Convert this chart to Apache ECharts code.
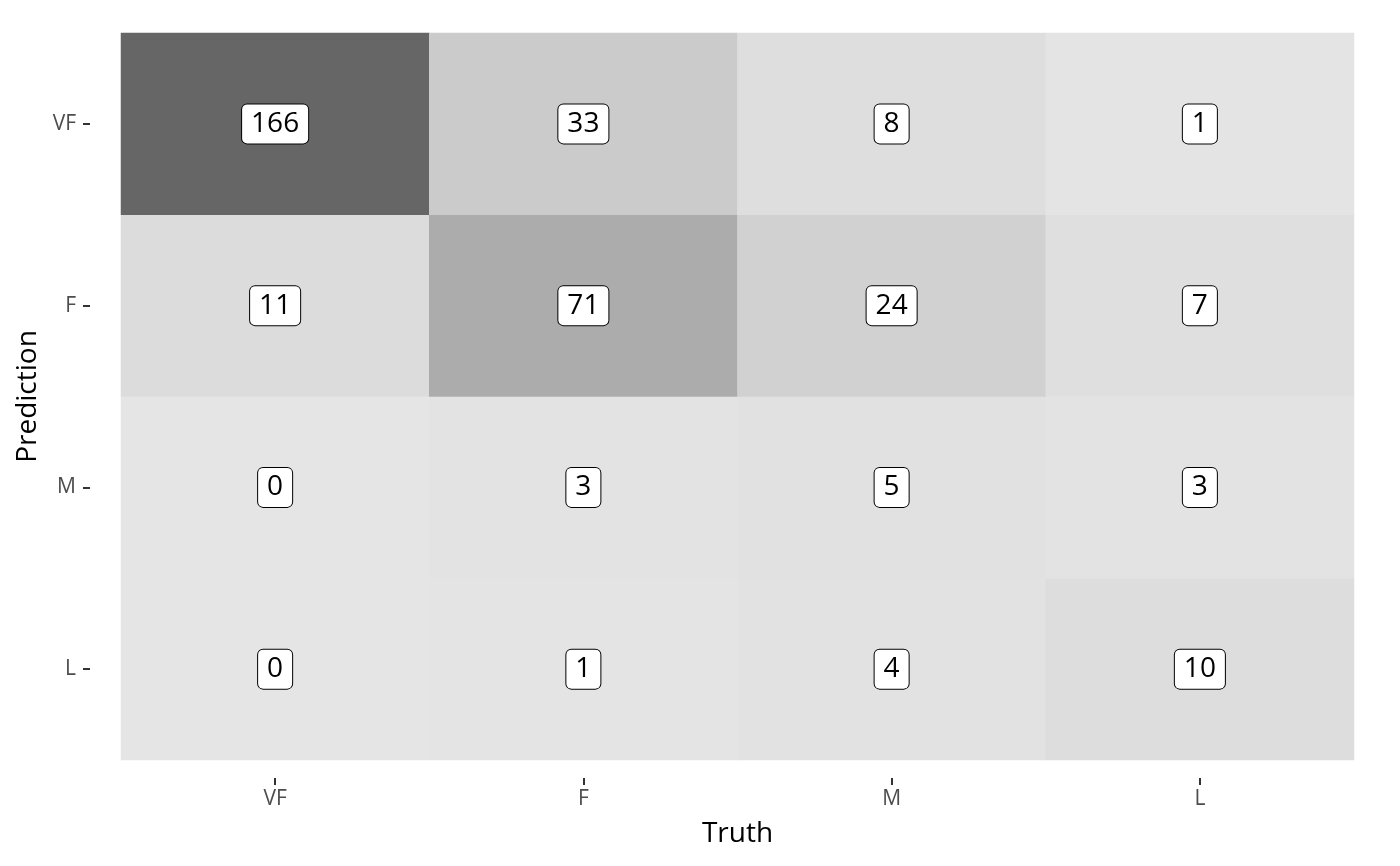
<!DOCTYPE html>
<html>
<head>
<meta charset="utf-8">
<script src="https://cdn.jsdelivr.net/npm/echarts@6/dist/echarts.min.js"></script>
<style>
  html, body { margin: 0; padding: 0; background: #fff; }
  #chart { width: 1400px; height: 866px; }
</style>
</head>
<body>
<div id="chart"></div>
<script>
// confusion matrix: truth on x, prediction on y
var truthLabels = ['VF', 'F', 'M', 'L'];
var predLabels = ['L', 'M', 'F', 'VF']; // bottom to top
// counts per prediction row (top to bottom: VF, F, M, L), columns VF, F, M, L
var rowVF = [166, 33, 8, 1];
var rowF = [11, 71, 24, 7];
var rowM = [0, 3, 5, 3];
var rowL = [0, 1, 4, 10];

(function(){
    var myChart = echarts.init(document.getElementById('chart'));
    var rows = { VF: rowVF, F: rowF, M: rowM, L: rowL };
    var cells = [];
    predLabels.forEach(function(p, yi){
        rows[p].forEach(function(v, xi){
            cells.push([xi, yi, v]);
        });
    });

    var option = {
        animation: false,
        textStyle: { fontFamily: 'Open Sans' },
        grid: { left: 121, right: 46, top: 33, bottom: 106 },
        xAxis: {
            type: 'category',
            data: truthLabels,
            offset: 18,
            name: 'Truth',
            nameLocation: 'middle',
            nameGap: 42,
            nameTextStyle: { fontSize: 28, color: '#000' },
            axisLine: { show: false },
            axisTick: { show: true, alignWithLabel: true, length: 7, lineStyle: { color: '#333', width: 2 } },
            axisLabel: { fontSize: 21, color: '#4d4d4d', margin: 11 },
            splitLine: { show: false }
        },
        yAxis: {
            type: 'category',
            data: predLabels,
            offset: 31,
            name: 'Prediction',
            nameLocation: 'middle',
            nameGap: 48,
            nameTextStyle: { fontSize: 28, color: '#000' },
            axisLine: { show: false },
            axisTick: { show: true, alignWithLabel: true, length: 7, lineStyle: { color: '#333', width: 2 } },
            axisLabel: { fontSize: 21, color: '#4d4d4d', margin: 14 },
            splitLine: { show: false }
        },
        visualMap: {
            show: false,
            min: 0,
            max: 166,
            dimension: 2,
            inRange: {
                color: ['#e5e5e5', '#d4d4d4', '#c4c4c4', '#b3b3b3', '#a3a3a3', '#939393', '#848484', '#757575', '#666666']
            }
        },
        series: [
            {
                type: 'heatmap',
                data: cells,
                label: {
                    show: true,
                    formatter: function(p){ return p.value[2]; },
                    fontSize: 28,
                    lineHeight: 30,
                    color: '#000',
                    backgroundColor: '#fff',
                    borderColor: '#000',
                    borderWidth: 1,
                    borderRadius: 5,
                    padding: [5, 9, 4, 9]
                },
                itemStyle: { borderWidth: 0 },
                emphasis: { disabled: true }
            }
        ]
    };
    myChart.setOption(option);
    window.addEventListener('resize', function(){
        myChart.resize();
    });
})();
</script>
</body>
</html>
